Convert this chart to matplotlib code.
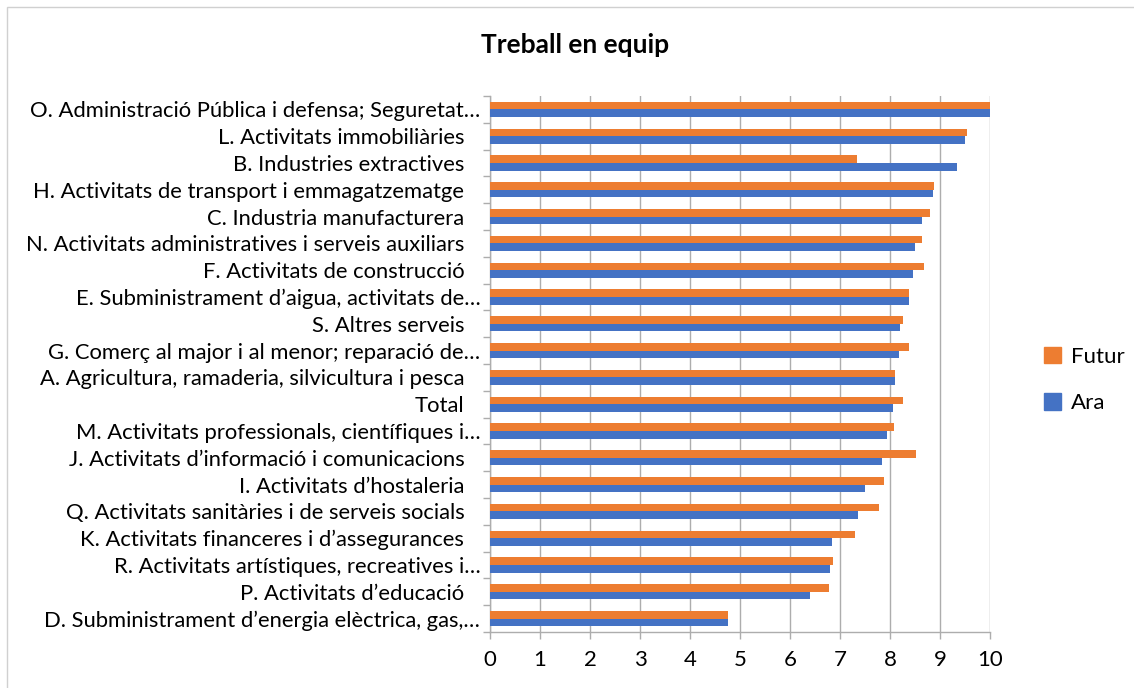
import matplotlib
matplotlib.use("Agg")
import matplotlib.pyplot as plt
import matplotlib.transforms as mtransforms
from matplotlib.patches import Rectangle, Patch
import numpy as np

categories = [
    "O. Administració Pública i defensa; Seguretat…",
    "L. Activitats immobiliàries",
    "B. Industries extractives",
    "H. Activitats de transport i emmagatzematge",
    "C. Industria manufacturera",
    "N. Activitats administratives i serveis auxiliars",
    "F. Activitats de construcció",
    "E. Subministrament d’aigua, activitats de…",
    "S. Altres serveis",
    "G. Comerç al major i al menor; reparació de…",
    "A. Agricultura, ramaderia, silvicultura i pesca",
    "Total",
    "M. Activitats professionals, científiques i…",
    "J. Activitats d’informació i comunicacions",
    "I. Activitats d’hostaleria",
    "Q. Activitats sanitàries i de serveis socials",
    "K. Activitats financeres i d’assegurances",
    "R. Activitats artístiques, recreatives i…",
    "P. Activitats d’educació",
    "D. Subministrament d’energia elèctrica, gas,…",
]
ara = [10.0, 9.50, 9.33, 8.85, 8.63, 8.50, 8.46, 8.38, 8.20, 8.17,
       8.09, 8.05, 7.93, 7.83, 7.49, 7.35, 6.83, 6.79, 6.40, 4.76]
futur = [10.0, 9.53, 7.33, 8.88, 8.79, 8.63, 8.67, 8.38, 8.25, 8.37,
         8.09, 8.25, 8.07, 8.51, 7.87, 7.77, 7.29, 6.85, 6.77, 4.76]
x_ticks = list(range(0, 11))

BLUE = "#4472C4"
ORANGE = "#ED7D31"
GRID = "#ADADAD"

plt.rcParams['font.family'] = ['Lato', 'DejaVu Sans']

W, H = 1134, 688
fig = plt.figure(figsize=(W / 100, H / 100), dpi=100)
fig.patches.append(Rectangle((7 / W, -0.01), 1.1, (H - 7) / H + 0.01,
                             transform=fig.transFigure, fill=False,
                             edgecolor="#D0D0D0", linewidth=1.0))

ax = fig.add_axes([490 / W, (H - 632) / H, 500 / W, (632 - 96) / H])

y = np.arange(len(categories))
h = 0.28
ax.barh(y - h / 2, futur, height=h, color=ORANGE, label="Futur", zorder=3)
ax.barh(y + h / 2, ara, height=h, color=BLUE, label="Ara", zorder=3)

ax.set_xlim(0, 10)
ax.set_ylim(len(categories) - 0.5, -0.5)
ax.set_xticks(x_ticks)
ax.set_xticklabels([str(t) for t in x_ticks], fontsize=16)
ax.set_yticks(y)
ax.set_yticklabels(categories, fontsize=15.8)
ax.set_yticks(np.arange(len(categories) + 1) - 0.5, minor=True)
ax.tick_params(axis='y', which='major', length=0, pad=7)
ax.tick_params(axis='y', which='minor', length=5, color=GRID, width=1.0)
ax.tick_params(axis='x', length=5, color=GRID, width=1.0, pad=8)
ax.xaxis.grid(True, color=GRID, linewidth=1.0, zorder=0)
ax.set_axisbelow(True)

for s in ['top', 'right']:
    ax.spines[s].set_visible(False)
for s in ['left', 'bottom']:
    ax.spines[s].set_color(GRID)
    ax.spines[s].set_linewidth(1.0)

# untruncated labels sit a little further from the axis, as in the original
shift = mtransforms.ScaledTranslation(-16 / 100, 0, fig.dpi_scale_trans)
for lbl in ax.get_yticklabels():
    if not lbl.get_text().endswith("…"):
        lbl.set_transform(lbl.get_transform() + shift)

fig.text(575 / W, 1 - 45 / H, "Treball en equip", ha='center', va='center',
         fontsize=19, fontweight='bold')

handles = [Patch(color=ORANGE, label="Futur"), Patch(color=BLUE, label="Ara")]
fig.legend(handles=handles, loc='center left',
           bbox_to_anchor=(1044 / W, 1 - 380 / H), frameon=False,
           borderpad=0, borderaxespad=0,
           fontsize=16, handlelength=0.75, handleheight=0.75,
           handletextpad=0.45, labelspacing=1.2)

fig.savefig("out.png", dpi=100)
